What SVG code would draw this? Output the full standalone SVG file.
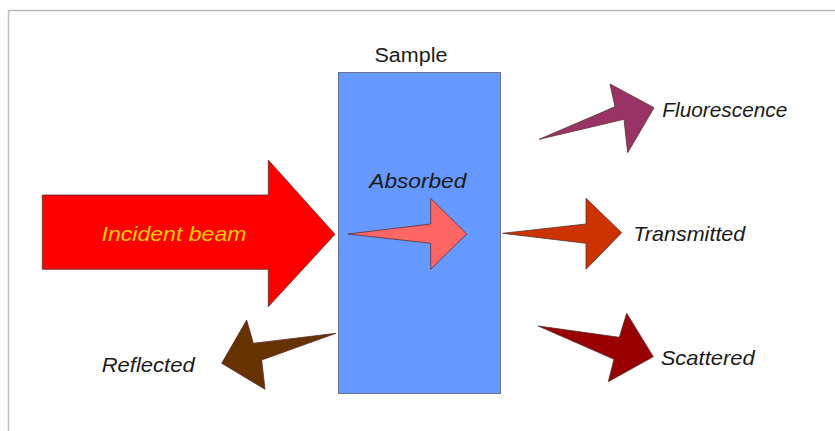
<svg xmlns="http://www.w3.org/2000/svg" width="835" height="431" viewBox="0 0 835 431">
  <style>
    .lbl { font-family: "Liberation Sans", Arial, sans-serif; font-size: 21px; font-style: italic; fill: #1a1a1a; }
    .arrow { stroke: #5a3030; stroke-width: 0.8; stroke-linejoin: miter; }
  </style>
  <rect width="835" height="431" fill="#ffffff"/>
  <!-- page frame -->
  <path d="M8.5 431 V10.5 H835" fill="none" stroke="#bbbbbb" stroke-width="1.5"/>

  <g id="sample">
    <rect x="338.5" y="72.5" width="162" height="321" fill="#6699ff" stroke="#6a7090" stroke-width="1"/>
    <text x="411" y="61.5" text-anchor="middle" font-family="'Liberation Sans', Arial, sans-serif" font-size="20" fill="#1a1a1a" textLength="73" lengthAdjust="spacingAndGlyphs">Sample</text>
  </g>

  <g id="connectors">
    <g id="incident">
      <polygon class="arrow" points="42.3,195 268.3,195 268.3,160 335,234.3 268.3,306.7 268.3,269.3 42.3,269.3" fill="#ff0000"/>
      <text class="lbl" x="174" y="241" text-anchor="middle" style="fill:#ffcc00" textLength="145" lengthAdjust="spacingAndGlyphs">Incident beam</text>
    </g>
    <g id="absorbed">
      <polygon class="arrow" points="348,234 430.7,224 430.7,198.3 466.7,234 430.7,269.3 430.7,243.3" fill="#ff6666"/>
      <text class="lbl" x="369.3" y="187.7" textLength="97" lengthAdjust="spacingAndGlyphs">Absorbed</text>
    </g>
    <g id="fluorescence">
      <polygon class="arrow" points="539.3,139.3 615,106.7 610,84 654,107.7 627.7,152.7 624,119.3" fill="#993366"/>
      <text class="lbl" x="662.3" y="116.7" textLength="125" lengthAdjust="spacingAndGlyphs">Fluorescence</text>
    </g>
    <g id="transmitted">
      <polygon class="arrow" points="502.7,233.3 586,224 586,198.3 621.7,232.7 586,269.3 586,243.3" fill="#cc3300"/>
      <text class="lbl" x="633.3" y="241" textLength="112" lengthAdjust="spacingAndGlyphs">Transmitted</text>
    </g>
    <g id="scattered">
      <polygon class="arrow" points="538.3,326 619.3,337.3 626.7,313.3 653.3,356.7 608.3,381.7 614,359.3" fill="#990000"/>
      <text class="lbl" x="660.7" y="365" textLength="94" lengthAdjust="spacingAndGlyphs">Scattered</text>
    </g>
    <g id="reflected">
      <polygon class="arrow" points="336,333.3 253.3,343.3 246.7,320 221.7,363.3 265,389.3 261.7,360" fill="#663300"/>
      <text class="lbl" x="101.7" y="371.7" textLength="93" lengthAdjust="spacingAndGlyphs">Reflected</text>
    </g>
  </g>
</svg>
